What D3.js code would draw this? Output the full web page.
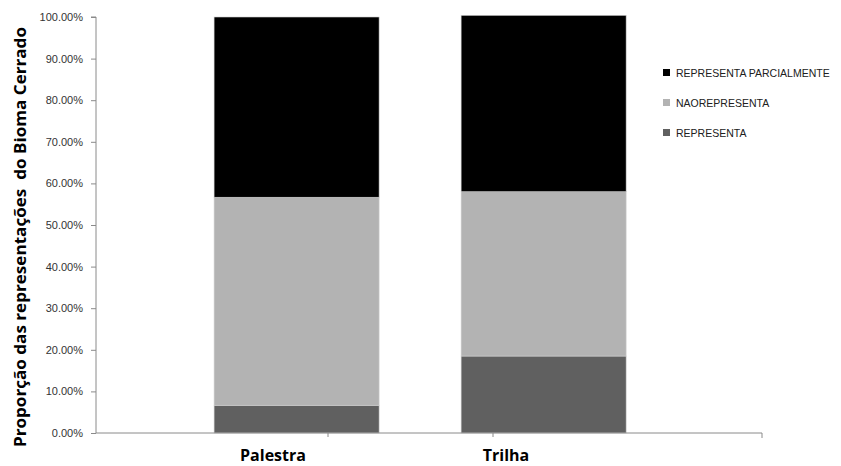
<!DOCTYPE html>
<html>
<head>
<meta charset="utf-8">
<script src="https://cdn.jsdelivr.net/npm/d3@7"></script>
<style>
  html, body { margin: 0; padding: 0; background: #fff; }
  svg { display: block; }
</style>
</head>
<body>
<svg id="chart" width="841" height="466"></svg>
<script>
// Categories and stacked shares (percent) per category
const categories = ["Palestra", "Trilha"];
const representa = [6.67, 18.5];
const naoRepresenta = [50.0, 39.5];
const representaParcialmente = [43.33, 42.4];

// Series order bottom to top, with legend names
const seriesNames = ["REPRESENTA", "NAOREPRESENTA", "REPRESENTA PARCIALMENTE"];
const seriesValues = [representa, naoRepresenta, representaParcialmente];
const seriesColors = ["#606060", "#b3b3b3", "#000000"];

// Y tick values (percent)
const yTicks = [0, 10, 20, 30, 40, 50, 60, 70, 80, 90, 100];

const svg = d3.select("#chart");
const plot = { left: 96, right: 762, top: 17, bottom: 433 };

const y = d3.scaleLinear().domain([0, 100]).range([plot.bottom, plot.top]);
const x = d3.scaleBand()
  .domain(categories)
  .range([plot.left, plot.right])
  .paddingInner(0.332)
  .paddingOuter(0.514)
  .align(0.465);

// Stack the series into rows per category
const rows = categories.map((c, i) => {
  const r = { category: c };
  seriesNames.forEach((s, j) => { r[s] = seriesValues[j][i]; });
  return r;
});
const stacked = d3.stack().keys(seriesNames)(rows);

const g = svg.append("g");
stacked.forEach((layer, j) => {
  g.selectAll(null)
    .data(layer)
    .join("rect")
    .attr("x", d => x(d.data.category))
    .attr("width", x.bandwidth())
    .attr("y", d => y(d[1]))
    .attr("height", d => y(d[0]) - y(d[1]))
    .attr("fill", seriesColors[j])
    .attr("stroke", "#d0d0d0")
    .attr("stroke-width", 0.6);
});

// Y axis
const yAxis = d3.axisLeft(y)
  .tickValues(yTicks)
  .tickSize(5)
  .tickPadding(8)
  .tickFormat(d => d.toFixed(2) + "%");
const yg = svg.append("g")
  .attr("transform", `translate(${plot.left},0)`)
  .call(yAxis);
yg.select(".domain").attr("stroke", "#8a8a8a").attr("d", `M-5,${plot.top}H0V${plot.bottom}`);
yg.selectAll(".tick line").attr("stroke", "#8a8a8a");
yg.selectAll(".tick text")
  .attr("fill", "#333")
  .style("font-family", "'Liberation Sans', Arial, sans-serif")
  .style("font-size", "11px");

// X axis baseline with category ticks
const xTickScale = d3.scalePoint().domain(categories).range([328, 493]);
const xLabelScale = d3.scalePoint().domain(categories).range([273, 506]);
const xg = svg.append("g");
xg.append("line")
  .attr("x1", plot.left).attr("x2", plot.right)
  .attr("y1", plot.bottom).attr("y2", plot.bottom)
  .attr("stroke", "#8a8a8a");
xg.append("line")
  .attr("x1", plot.right).attr("x2", plot.right)
  .attr("y1", plot.bottom).attr("y2", plot.bottom + 5)
  .attr("stroke", "#8a8a8a");
xg.selectAll(".ctick")
  .data(categories)
  .join("line")
  .attr("x1", d => xTickScale(d)).attr("x2", d => xTickScale(d))
  .attr("y1", plot.bottom).attr("y2", plot.bottom + 4)
  .attr("stroke", "#8a8a8a");
xg.selectAll(".clabel")
  .data(categories)
  .join("text")
  .attr("x", d => xLabelScale(d))
  .attr("y", 461)
  .attr("text-anchor", "middle")
  .attr("fill", "#000")
  .style("font-family", "'Open Sans', sans-serif")
  .style("font-weight", "bold")
  .style("font-size", "16px")
  .text(d => d);

// Y axis title
svg.append("text")
  .attr("transform", `translate(26,${(plot.top + plot.bottom) / 2 + 12}) rotate(-90)`)
  .attr("text-anchor", "middle")
  .attr("fill", "#000")
  .attr("textLength", 420)
  .attr("lengthAdjust", "spacingAndGlyphs")
  .attr("xml:space", "preserve")
  .style("font-family", "'Open Sans', sans-serif")
  .style("font-weight", "bold")
  .style("font-size", "16.5px")
  .style("white-space", "pre")
  .text("Proporção das representações  do Bioma Cerrado");

// Legend, top entry is the top series
const legendOrder = seriesNames.map((s, j) => ({ name: s, color: seriesColors[j] })).reverse();
const legend = svg.append("g").attr("transform", "translate(663,73)");
const items = legend.selectAll("g")
  .data(legendOrder)
  .join("g")
  .attr("transform", (d, i) => `translate(0,${i * 30})`);
items.append("rect")
  .attr("x", 0).attr("y", -4)
  .attr("width", 7).attr("height", 7)
  .attr("fill", d => d.color);
items.append("text")
  .attr("x", 13).attr("y", 4)
  .attr("fill", "#202020")
  .style("font-family", "'Liberation Sans', Arial, sans-serif")
  .style("font-size", "10.5px")
  .text(d => d.name);
</script>
</body>
</html>
